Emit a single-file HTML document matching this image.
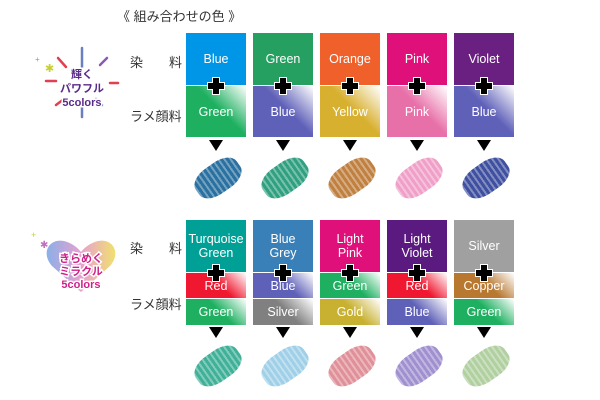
<!DOCTYPE html><html><head><meta charset="utf-8"><style>
body{margin:0;width:600px;height:400px;background:#fff;position:relative;overflow:hidden;font-family:"Liberation Sans","Noto Sans CJK JP",sans-serif}
.a{position:absolute}
.b{position:absolute;width:60px;color:#fff;font-size:12.5px;text-align:center;display:flex;align-items:center;justify-content:center;line-height:14px}
.lab{position:absolute;font-size:13px;color:#333}
.plus{position:absolute;width:20px;height:20px}
.tri{position:absolute;width:0;height:0;border-left:7px solid transparent;border-right:7px solid transparent;border-top:11px solid #000}
.s{position:absolute;width:50px;height:30px;border-radius:40%;transform:rotate(-35deg);background-image:repeating-linear-gradient(90deg,rgba(255,255,255,.35) 0 2px,transparent 2px 5px)}
</style></head><body>
<svg width="0" height="0" style="position:absolute"><defs><g id="p"><path d="M7 2h6v5h5v6h-5v5h-6v-5h-5v-6h5z" fill="#000" stroke="#fff" stroke-width="2" paint-order="stroke"/></g></defs></svg>
<div class="a" style="left:117px;top:6px;font-size:13px;color:#333">《 組み合わせの色 》</div>
<div class="lab" style="left:130px;top:52px">染　　料</div>
<div class="lab" style="left:130px;top:106px">ラメ顔料</div>
<div class="lab" style="left:130px;top:238px">染　　料</div>
<div class="lab" style="left:130px;top:294px">ラメ顔料</div>
<svg class="a" style="left:30px;top:45px" width="90" height="75"><g stroke-width="2.5" stroke-linecap="round">
<line x1="52" y1="3" x2="52" y2="22" stroke="#6a7fc0"/><line x1="52" y1="60" x2="52" y2="72" stroke="#6a7fc0"/>
<line x1="16" y1="36" x2="26" y2="36" stroke="#e04050"/><line x1="80" y1="38" x2="88" y2="38" stroke="#e04050"/>
<line x1="28" y1="13" x2="36" y2="22" stroke="#e04050"/><line x1="77" y1="13" x2="70" y2="20" stroke="#8a5ab0"/>
<line x1="26" y1="60" x2="34" y2="54" stroke="#e04050"/><line x1="72" y1="60" x2="66" y2="54" stroke="#6a7fc0"/></g>
<text x="15" y="27" fill="#c8d030" font-size="11">✱</text><text x="5" y="17" fill="#5aaad0" font-size="8">+</text>
<text x="52" y="33" text-anchor="middle" font-size="11" font-weight="bold" fill="#5a2a8a" stroke="#fff" stroke-width="3" paint-order="stroke">輝く</text>
<text x="52" y="47" text-anchor="middle" font-size="11" font-weight="bold" fill="#5a2a8a" stroke="#fff" stroke-width="3" paint-order="stroke">パワフル</text>
<text x="52" y="61" text-anchor="middle" font-size="11" font-weight="bold" fill="#5a2a8a" stroke="#fff" stroke-width="3" paint-order="stroke">5colors</text></svg>
<svg class="a" style="left:28px;top:228px" width="95" height="70"><defs><linearGradient id="h" x1="0" x2="1"><stop offset="0" stop-color="#8ab0e8"/><stop offset=".5" stop-color="#e8a0d0"/><stop offset="1" stop-color="#f0e070"/></linearGradient></defs>
<path d="M53 64 L24 38 C12 24 22 10 36 13 C44 15 50 20 53 24 C56 20 62 15 70 13 C84 10 94 24 82 38 Z" fill="url(#h)"/>
<text x="3" y="10" fill="#c8d030" font-size="9">+</text><text x="12" y="20" fill="#c070c0" font-size="10">✱</text>
<text x="53" y="34" text-anchor="middle" font-size="11" font-weight="bold" fill="#d0208a" stroke="#fff" stroke-width="3" paint-order="stroke">きらめく</text>
<text x="53" y="47" text-anchor="middle" font-size="11" font-weight="bold" fill="#d0208a" stroke="#fff" stroke-width="3" paint-order="stroke">ミラクル</text>
<text x="53" y="60" text-anchor="middle" font-size="11" font-weight="bold" fill="#d0208a" stroke="#fff" stroke-width="3" paint-order="stroke">5colors</text></svg>

<div class="b" style="left:186px;top:33px;height:52px;background:#0096e8">Blue</div>
<div class="b" style="left:186px;top:86px;height:51px;background:linear-gradient(225deg,#fff 0%,#1eb060 45%)">Green</div>
<div class="b" style="left:253px;top:33px;height:52px;background:#26a060">Green</div>
<div class="b" style="left:253px;top:86px;height:51px;background:linear-gradient(225deg,#fff 0%,#5f60b8 45%)">Blue</div>
<div class="b" style="left:320px;top:33px;height:52px;background:#f0602a">Orange</div>
<div class="b" style="left:320px;top:86px;height:51px;background:linear-gradient(225deg,#fff 0%,#d8b030 45%)">Yellow</div>
<div class="b" style="left:387px;top:33px;height:52px;background:#e0107a">Pink</div>
<div class="b" style="left:387px;top:86px;height:51px;background:linear-gradient(225deg,#fff 0%,#e870a8 45%)">Pink</div>
<div class="b" style="left:454px;top:33px;height:52px;background:#6a2080">Violet</div>
<div class="b" style="left:454px;top:86px;height:51px;background:linear-gradient(225deg,#fff 0%,#5f60b8 45%)">Blue</div>
<svg class="plus" style="left:206px;top:76px"><use href="#p"/></svg><svg class="plus" style="left:273px;top:76px"><use href="#p"/></svg><svg class="plus" style="left:340px;top:76px"><use href="#p"/></svg><svg class="plus" style="left:407px;top:76px"><use href="#p"/></svg><svg class="plus" style="left:474px;top:76px"><use href="#p"/></svg>
<div class="tri" style="left:209px;top:140px"></div><div class="tri" style="left:276px;top:140px"></div><div class="tri" style="left:343px;top:140px"></div><div class="tri" style="left:410px;top:140px"></div><div class="tri" style="left:477px;top:140px"></div>
<div class="s" style="left:193px;top:163px;background-color:#2a70a0"></div>
<div class="s" style="left:260px;top:163px;background-color:#30a080"></div>
<div class="s" style="left:327px;top:163px;background-color:#c08040"></div>
<div class="s" style="left:394px;top:163px;background-color:#f0a0c8"></div>
<div class="s" style="left:461px;top:163px;background-color:#4050a0"></div>

<div class="b" style="left:186px;top:220px;height:52px;background:#00a096">Turquoise<br>Green</div>
<div class="b" style="left:186px;top:273px;height:25px;background:linear-gradient(225deg,#fff 0%,#f01830 45%)">Red</div>
<div class="b" style="left:186px;top:299px;height:26px;background:linear-gradient(225deg,#fff 0%,#1eb060 45%)">Green</div>
<div class="b" style="left:253px;top:220px;height:52px;background:#3a80b8">Blue<br>Grey</div>
<div class="b" style="left:253px;top:273px;height:25px;background:linear-gradient(225deg,#fff 0%,#5f60b8 45%)">Blue</div>
<div class="b" style="left:253px;top:299px;height:26px;background:linear-gradient(225deg,#fff 0%,#808080 45%)">Silver</div>
<div class="b" style="left:320px;top:220px;height:52px;background:#e0107a">Light<br>Pink</div>
<div class="b" style="left:320px;top:273px;height:25px;background:linear-gradient(225deg,#fff 0%,#1eb060 45%)">Green</div>
<div class="b" style="left:320px;top:299px;height:26px;background:linear-gradient(225deg,#fff 0%,#c8b030 45%)">Gold</div>
<div class="b" style="left:387px;top:220px;height:52px;background:#5a1a80">Light<br>Violet</div>
<div class="b" style="left:387px;top:273px;height:25px;background:linear-gradient(225deg,#fff 0%,#f01830 45%)">Red</div>
<div class="b" style="left:387px;top:299px;height:26px;background:linear-gradient(225deg,#fff 0%,#5f60b8 45%)">Blue</div>
<div class="b" style="left:454px;top:220px;height:52px;background:#a0a0a0">Silver</div>
<div class="b" style="left:454px;top:273px;height:25px;background:linear-gradient(225deg,#fff 0%,#b87830 45%)">Copper</div>
<div class="b" style="left:454px;top:299px;height:26px;background:linear-gradient(225deg,#fff 0%,#1eb060 45%)">Green</div>
<svg class="plus" style="left:206px;top:263px"><use href="#p"/></svg><svg class="plus" style="left:273px;top:263px"><use href="#p"/></svg><svg class="plus" style="left:340px;top:263px"><use href="#p"/></svg><svg class="plus" style="left:407px;top:263px"><use href="#p"/></svg><svg class="plus" style="left:474px;top:263px"><use href="#p"/></svg>
<div class="tri" style="left:209px;top:327px"></div><div class="tri" style="left:276px;top:327px"></div><div class="tri" style="left:343px;top:327px"></div><div class="tri" style="left:410px;top:327px"></div><div class="tri" style="left:477px;top:327px"></div>
<div class="s" style="left:193px;top:351px;background-color:#40b098"></div>
<div class="s" style="left:260px;top:351px;background-color:#a0d0e8"></div>
<div class="s" style="left:327px;top:351px;background-color:#e09098"></div>
<div class="s" style="left:394px;top:351px;background-color:#a090d0"></div>
<div class="s" style="left:461px;top:351px;background-color:#b0d0a0"></div>
</body></html>
